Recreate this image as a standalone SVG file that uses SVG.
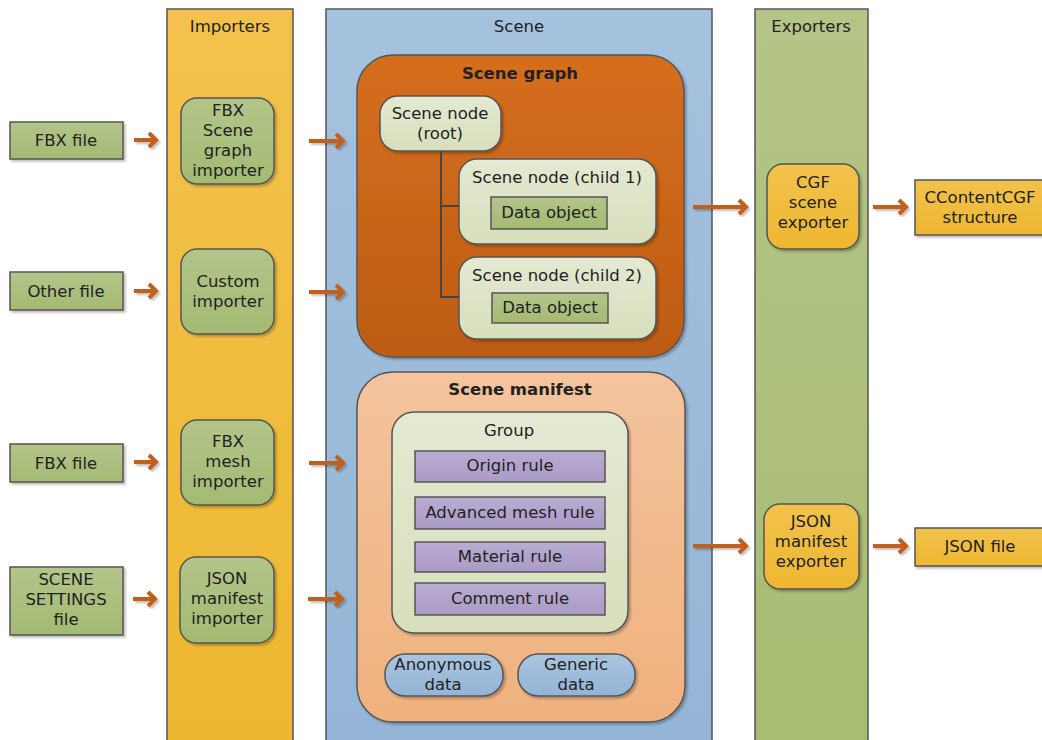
<svg xmlns="http://www.w3.org/2000/svg" width="1042" height="740" viewBox="0 0 1042 740">
<defs>
  <linearGradient id="gYel" x1="0" y1="0" x2="0" y2="1"><stop offset="0" stop-color="#f2c24c"/><stop offset="1" stop-color="#eeb730"/></linearGradient>
  <linearGradient id="gBlue" x1="0" y1="0" x2="0" y2="1"><stop offset="0" stop-color="#a5c2de"/><stop offset="1" stop-color="#94b5d6"/></linearGradient>
  <linearGradient id="gExp" x1="0" y1="0" x2="0" y2="1"><stop offset="0" stop-color="#b4c587"/><stop offset="1" stop-color="#a8bb72"/></linearGradient>
  <linearGradient id="gGreen" x1="0" y1="0" x2="0" y2="1"><stop offset="0" stop-color="#b3c58a"/><stop offset="1" stop-color="#a4ba72"/></linearGradient>
  <linearGradient id="gSG" x1="0" y1="0" x2="0" y2="1"><stop offset="0" stop-color="#d56e1e"/><stop offset="1" stop-color="#bd5c14"/></linearGradient>
  <linearGradient id="gSM" x1="0" y1="0" x2="0" y2="1"><stop offset="0" stop-color="#f4c49e"/><stop offset="1" stop-color="#efb17e"/></linearGradient>
  <linearGradient id="gLight" x1="0" y1="0" x2="0" y2="1"><stop offset="0" stop-color="#e4e9d2"/><stop offset="1" stop-color="#d7dfbc"/></linearGradient>
  <linearGradient id="gPurp" x1="0" y1="0" x2="0" y2="1"><stop offset="0" stop-color="#b9acd2"/><stop offset="1" stop-color="#aa9bc6"/></linearGradient>
  <linearGradient id="gDataB" x1="0" y1="0" x2="0" y2="1"><stop offset="0" stop-color="#a9c5e0"/><stop offset="1" stop-color="#93b4d5"/></linearGradient>
  <filter id="sh" x="-10%" y="-10%" width="130%" height="130%">
    <feDropShadow dx="2" dy="2" stdDeviation="1.2" flood-color="#000" flood-opacity="0.25"/>
  </filter>
  <marker id="ah" viewBox="0 0 10 10" refX="8" refY="5" markerWidth="3" markerHeight="3" orient="auto" markerUnits="strokeWidth">
    <path d="M2,1 L8,5 L2,9" fill="none" stroke="#c0601c" stroke-width="2.4"/>
  </marker>
</defs>
<style>
  text { font-family: "DejaVu Sans", Verdana, sans-serif; font-size: 16.5px; fill: #222; text-anchor: middle; }
  .b { font-weight: bold; }
  .col { stroke: #555; stroke-width: 1.5; }
  .box { stroke: #555; stroke-width: 1.5; filter: url(#sh); }
  .arr { fill: none; stroke: #c0601c; stroke-width: 4; filter: url(#sh); }
</style>

<rect width="1042" height="740" fill="#fff"/>

<!-- Columns -->
<g id="importers">
  <rect class="col" x="167" y="9" width="126" height="740" fill="url(#gYel)"/>
  <text x="230" y="32">Importers</text>
</g>
<g id="scene">
  <rect class="col" x="326" y="9" width="386" height="740" fill="url(#gBlue)"/>
  <text x="519" y="32">Scene</text>
</g>
<g id="exporters">
  <rect class="col" x="755" y="9" width="113" height="740" fill="url(#gExp)"/>
  <text x="811" y="32">Exporters</text>
</g>

<!-- Input files -->
<g id="fbx-file-1">
  <rect class="box" x="10" y="122" width="113" height="37" fill="url(#gGreen)"/>
  <text x="66" y="146">FBX file</text>
</g>
<g id="other-file">
  <rect class="box" x="10" y="272" width="113" height="38" fill="url(#gGreen)"/>
  <text x="66" y="297">Other file</text>
</g>
<g id="fbx-file-2">
  <rect class="box" x="10" y="444" width="113" height="38" fill="url(#gGreen)"/>
  <text x="66" y="469">FBX file</text>
</g>
<g id="scene-settings-file">
  <rect class="box" x="10" y="567" width="113" height="68" fill="url(#gGreen)"/>
  <text x="66" y="585">SCENE</text>
  <text x="66" y="605">SETTINGS</text>
  <text x="66" y="625">file</text>
</g>

<!-- Importers -->
<g id="fbx-scene-graph-importer">
  <rect class="box" x="181" y="98" width="93" height="86" rx="16" fill="url(#gGreen)"/>
  <text x="228" y="116">FBX</text>
  <text x="228" y="136">Scene</text>
  <text x="228" y="156">graph</text>
  <text x="228" y="176">importer</text>
</g>
<g id="custom-importer">
  <rect class="box" x="181" y="249" width="93" height="85" rx="16" fill="url(#gGreen)"/>
  <text x="228" y="287">Custom</text>
  <text x="228" y="307">importer</text>
</g>
<g id="fbx-mesh-importer">
  <rect class="box" x="181" y="420" width="93" height="85" rx="16" fill="url(#gGreen)"/>
  <text x="228" y="447">FBX</text>
  <text x="228" y="467">mesh</text>
  <text x="228" y="487">importer</text>
</g>
<g id="json-manifest-importer">
  <rect class="box" x="180" y="557" width="94" height="86" rx="16" fill="url(#gGreen)"/>
  <text x="227" y="584">JSON</text>
  <text x="227" y="604">manifest</text>
  <text x="227" y="624">importer</text>
</g>

<!-- Scene graph -->
<g id="scene-graph">
  <rect class="box" x="357" y="55" width="327" height="302" rx="36" fill="url(#gSG)"/>
  <text class="b" x="520" y="79">Scene graph</text>
</g>
<g id="scene-node-root">
  <rect class="box" x="380" y="96" width="121" height="55" rx="18" fill="url(#gLight)"/>
  <text x="440" y="119">Scene node</text>
  <text x="440" y="139">(root)</text>
</g>
<g id="scene-node-child-1">
  <rect class="box" x="459" y="159" width="197" height="85" rx="18" fill="url(#gLight)"/>
  <text x="557" y="183">Scene node (child 1)</text>
</g>
<g id="data-object-1">
  <rect class="col" x="491" y="197" width="116" height="32" fill="url(#gGreen)"/>
  <text x="549" y="218">Data object</text>
</g>
<g id="scene-node-child-2">
  <rect class="box" x="459" y="257" width="197" height="82" rx="18" fill="url(#gLight)"/>
  <text x="557" y="281">Scene node (child 2)</text>
</g>
<g id="data-object-2">
  <rect class="col" x="492" y="293" width="116" height="30" fill="url(#gGreen)"/>
  <text x="550" y="313">Data object</text>
</g>

<!-- Scene manifest -->
<g id="scene-manifest">
  <rect class="box" x="357" y="372" width="328" height="350" rx="36" fill="url(#gSM)"/>
  <text class="b" x="520" y="395">Scene manifest</text>
</g>
<g id="group">
  <rect class="box" x="392" y="412" width="236" height="221" rx="22" fill="url(#gLight)"/>
  <text x="509" y="436">Group</text>
</g>
<g id="origin-rule">
  <rect class="col" x="415" y="451" width="190" height="31" fill="url(#gPurp)"/>
  <text x="510" y="471">Origin rule</text>
</g>
<g id="advanced-mesh-rule">
  <rect class="col" x="415" y="497" width="190" height="32" fill="url(#gPurp)"/>
  <text x="510" y="518">Advanced mesh rule</text>
</g>
<g id="material-rule">
  <rect class="col" x="415" y="542" width="190" height="30" fill="url(#gPurp)"/>
  <text x="510" y="562">Material rule</text>
</g>
<g id="comment-rule">
  <rect class="col" x="415" y="583" width="190" height="32" fill="url(#gPurp)"/>
  <text x="510" y="604">Comment rule</text>
</g>
<g id="anonymous-data">
  <rect class="box" x="385" y="654" width="118" height="42" rx="20" fill="url(#gDataB)"/>
  <text x="443" y="670">Anonymous</text>
  <text x="443" y="690">data</text>
</g>
<g id="generic-data">
  <rect class="box" x="518" y="654" width="117" height="42" rx="20" fill="url(#gDataB)"/>
  <text x="576" y="670">Generic</text>
  <text x="576" y="690">data</text>
</g>

<!-- Exporters -->
<g id="cgf-scene-exporter">
  <rect class="box" x="767" y="164" width="92" height="85" rx="16" fill="url(#gYel)"/>
  <text x="813" y="188">CGF</text>
  <text x="813" y="208">scene</text>
  <text x="813" y="228">exporter</text>
</g>
<g id="json-manifest-exporter">
  <rect class="box" x="764" y="504" width="95" height="85" rx="16" fill="url(#gYel)"/>
  <text x="811" y="527">JSON</text>
  <text x="811" y="547">manifest</text>
  <text x="811" y="567">exporter</text>
</g>
<g id="ccontentcgf-structure">
  <rect class="box" x="915" y="180" width="135" height="55" fill="url(#gYel)"/>
  <text x="980" y="203">CContentCGF</text>
  <text x="980" y="223">structure</text>
</g>
<g id="json-file">
  <rect class="box" x="915" y="528" width="135" height="38" fill="url(#gYel)"/>
  <text x="980" y="552">JSON file</text>
</g>

<!-- Connectors -->
<g id="connectors">
  <!-- tree lines -->
  <path d="M441,151 V297 H459 M441,206 H459" fill="none" stroke="#444" stroke-width="2"/>
  <!-- arrows -->
  <g class="arrows">
    <path class="arr" d="M134,140 H156 M149,133 L156,140 L149,147"/>
    <path class="arr" d="M134,291 H156 M149,284 L156,291 L149,298"/>
    <path class="arr" d="M134,462 H156 M149,455 L156,462 L149,469"/>
    <path class="arr" d="M133,599 H155 M148,592 L155,599 L148,606"/>
    <path class="arr" d="M309,141 H343 M336,134 L343,141 L336,148"/>
    <path class="arr" d="M309,292 H343 M336,285 L343,292 L336,299"/>
    <path class="arr" d="M309,463 H343 M336,456 L343,463 L336,470"/>
    <path class="arr" d="M308,599 H342 M335,592 L342,599 L335,606"/>
    <path class="arr" d="M693,207 H746 M739,200 L746,207 L739,214"/>
    <path class="arr" d="M693,546 H746 M739,539 L746,546 L739,553"/>
    <path class="arr" d="M873,207 H906 M899,200 L906,207 L899,214"/>
    <path class="arr" d="M873,546 H906 M899,539 L906,546 L899,553"/>
  </g>
</g>
</svg>
